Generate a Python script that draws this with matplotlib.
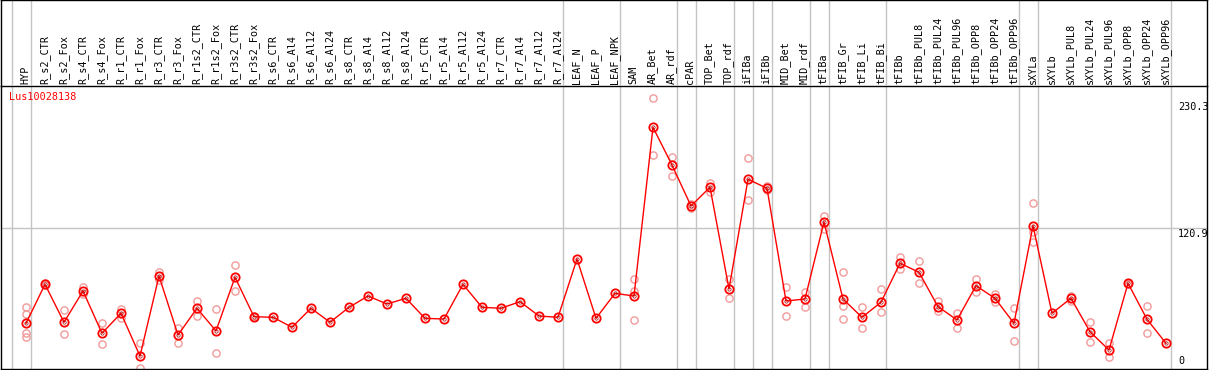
import matplotlib
matplotlib.use("Agg")
import matplotlib.pyplot as plt

# ---------------- data ----------------
title = "Lus10028138"
categories = [
    "HYP", "R_s2_CTR", "R_s2_Fox", "R_s4_CTR", "R_s4_Fox", "R_r1_CTR", "R_r1_Fox",
    "R_r3_CTR", "R_r3_Fox", "R_r1s2_CTR", "R_r1s2_Fox", "R_r3s2_CTR", "R_r3s2_Fox",
    "R_s6_CTR", "R_s6_Al4", "R_s6_Al12", "R_s6_Al24", "R_s8_CTR", "R_s8_Al4",
    "R_s8_Al12", "R_s8_Al24", "R_r5_CTR", "R_r5_Al4", "R_r5_Al12", "R_r5_Al24",
    "R_r7_CTR", "R_r7_Al4", "R_r7_Al12", "R_r7_Al24", "LEAF_N", "LEAF_P", "LEAF_NPK",
    "SAM", "AR_Bet", "AR_rdf", "cPAR", "TOP_Bet", "TOP_rdf", "iFIBa", "iFIBb",
    "MID_Bet", "MID_rdf", "tFIBa", "tFIB_Gr", "tFIB_Li", "tFIB_Bi", "tFIBb",
    "tFIBb_PUL8", "tFIBb_PUL24", "tFIBb_PUL96", "tFIBb_OPP8", "tFIBb_OPP24",
    "tFIBb_OPP96", "sXYLa", "sXYLb", "sXYLb_PUL8", "sXYLb_PUL24", "sXYLb_PUL96",
    "sXYLb_OPP8", "sXYLb_OPP24", "sXYLb_OPP96",
]
group_sizes = [1, 28, 3, 3, 1, 2, 1, 1, 2, 1, 3, 7, 1, 7]

mean_values = [
    38.8, 72.5, 39.7, 66.7, 30.2, 47.5, 10.5, 79.7, 28.7, 51.8, 32.2, 78.6, 44.5,
    44.0, 35.4, 51.8, 39.7, 52.6, 62.4, 55.5, 60.4, 43.1, 42.5, 72.5, 52.6,
    51.8, 57.5, 45.1, 44.0, 94.4, 43.1, 64.7,
    62.4, 208.2, 175.6, 140.2, 156.4, 68.5, 163.3, 155.5, 58.1, 59.8, 126.4,
    59.8, 44.0, 57.0, 90.7, 82.9, 53.2, 41.7, 71.3, 60.4, 38.8,
    123.2, 47.5, 60.4, 31.5, 15.7, 73.4, 42.3, 21.5,
]

replicates = [
    [52.6, 46.8, 30.2, 27.2], [73.5, 71.5], [50.3, 29.3], [70.4, 64.1], [38.8, 20.7],
    [51.2, 43.6], [21.5, 0.0], [82.9, 76.2], [34.5, 21.5], [58.1, 45.4], [51.2, 12.9],
    [89.2, 67.0], [45.0, 44.0],
    [], [], [], [], [], [], [], [], [], [], [], [], [], [], [], [], [], [], [],
    [76.8, 67.0, 41.7], [233.8, 184.3], [182.8, 166.4], [141.9, 138.2],
    [160.3, 152.6], [76.8, 60.4], [181.4, 145.4], [157.5, 154.0], [69.9, 45.4],
    [66.1, 52.6], [131.5, 120.0], [82.9, 54.0, 42.5], [52.6, 34.5], [68.2, 48.3],
    [95.9, 85.5], [92.7, 73.4], [58.3, 49.7], [47.5, 34.5], [76.8, 66.1],
    [64.1, 57.5], [52.3, 23.8], [143.0, 118.0, 109.3], [], [62.4, 58.5],
    [39.7, 22.9], [21.5, 9.9], [74.0, 72.8], [54.0, 30.2], [],
]

y_marks = [230.3, 120.9]

# ---------------- layout ----------------
W, H = 1209, 370
fig = plt.figure(figsize=(W / 100, H / 100), dpi=100)
fig.patch.set_facecolor("white")

px_left, px_right = 1, 1207
px_head_bot, px_bot = 86, 369
x0_px, step_px = 26.0, 19.0
xlim = ((px_left - x0_px) / step_px, (px_right - x0_px) / step_px)
y0_px, scale = 368.2, 1.157
ylim = ((y0_px - px_bot) / scale, (y0_px - px_head_bot) / scale)

ax = fig.add_axes([px_left / W, 1 - px_bot / H, (px_right - px_left) / W,
                   (px_bot - px_head_bot) / H])
hx = fig.add_axes([px_left / W, 1 - px_head_bot / H, (px_right - px_left) / W,
                   px_head_bot / H])

for a in (ax, hx):
    a.set_xlim(*xlim)
    a.set_xticks([])
    a.set_yticks([])
    a.set_facecolor("none")
    for s in a.spines.values():
        s.set_color("black")
        s.set_linewidth(1.0)
ax.set_ylim(*ylim)
hx.set_ylim(px_head_bot, 0)
hx.spines["bottom"].set_visible(False)

mono = "DejaVu Sans Mono"
fs = 7.3
grid_c = "#c4c4c4"

# group separators
pos = -1
bounds = [pos]
for g in group_sizes:
    pos += g
    bounds.append(pos)
for b in bounds:
    for a in (ax, hx):
        a.axvline(b + 0.237, color=grid_c, lw=1.0, zorder=0)

ax.axhline(y_marks[1], color=grid_c, lw=1.0, zorder=0)

xs = list(range(len(categories)))

# category labels
for i, c in enumerate(xs):
    hx.text(c - 0.03, 84, categories[i], rotation=90, ha="center", va="bottom",
            fontsize=fs, family=mono, color="black")

# replicates
rx, ry = [], []
for i, reps in enumerate(replicates):
    for v in reps:
        rx.append(xs[i])
        ry.append(v)
ax.plot(rx, ry, linestyle="none", marker="o", ms=5.2, mfc="none",
        mec="#f09a9a", mew=1.0, zorder=2, clip_on=False)

# mean line
ax.plot(xs, mean_values, color="#ff0000", lw=1.0, zorder=3)
ax.plot(xs, mean_values, linestyle="none", marker="o", ms=6.0, mfc="none",
        mec="#ff0000", mew=1.3, zorder=4)
ax.plot(xs, mean_values, linestyle="none", marker="o", ms=2.4, mfc="none",
        mec="#a00000", mew=0.5, zorder=5)

# title
ax.text((9 - px_left) / (px_right - px_left), 1 - (92 - px_head_bot) / (px_bot - px_head_bot),
        title, transform=ax.transAxes, ha="left", va="top", fontsize=fs,
        family=mono, color="#ff0000")

# right-side scale labels
lx = (1178 - px_left) / (px_right - px_left)
tr = ax.get_yaxis_transform()
ax.text(lx, y_marks[0] - 0.6, f"{y_marks[0]}", transform=tr, ha="left", va="top",
        fontsize=fs, family=mono, color="black")
ax.text(lx, y_marks[1] - 0.6, f"{y_marks[1]}", transform=tr, ha="left", va="top",
        fontsize=fs, family=mono, color="black")
ax.text(lx, 2.2, "0", transform=tr, ha="left", va="bottom",
        fontsize=fs, family=mono, color="black")

fig.savefig("out.png", dpi=100)
